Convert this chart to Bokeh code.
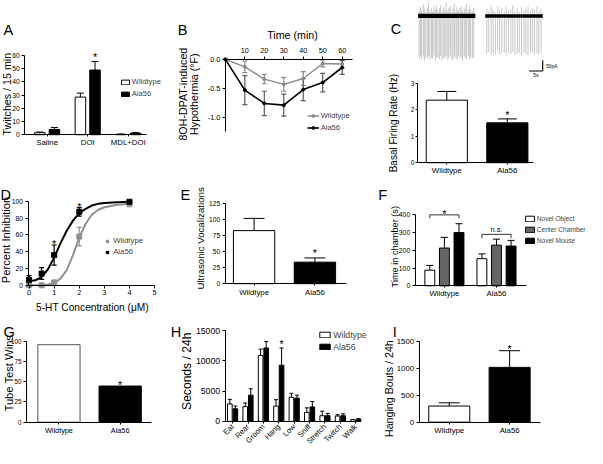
import math
from bokeh.plotting import figure
from bokeh.models import (Range1d, LinearAxis, FixedTicker, Label, Legend, LegendItem,
                          Whisker, TeeHead, ColumnDataSource)
from bokeh.layouts import row, column
from bokeh.embed import file_html
from bokeh.resources import INLINE

# ---------------- data ----------------
A_groups = ["Saline", "DOI", "MDL+DOI"]
A_wt = [1.5, 28.5, 0.3]
A_wt_err = [0.5, 3.0, 0.2]
A_ala = [4.0, 49.0, 1.2]
A_ala_err = [1.5, 6.5, 0.5]

B_time = [0, 10, 20, 30, 40, 50, 60]
B_wt = [0.0, -0.13, -0.34, -0.43, -0.33, -0.07, -0.08]
B_wt_err = [0.0, 0.10, 0.08, 0.12, 0.12, 0.06, 0.07]
B_ala = [0.0, -0.53, -0.76, -0.79, -0.52, -0.40, -0.14]
B_ala_err = [0.0, 0.25, 0.21, 0.19, 0.19, 0.16, 0.12]

C_trace1_t = [0.4, 0.9, 1.3, 1.9, 2.3, 2.8, 3.4, 3.8, 4.3, 4.9, 5.3, 5.8, 6.4, 6.8, 7.3, 7.9, 8.3, 8.8,
              9.4, 9.8, 10.3, 10.9, 11.3, 11.8, 12.4, 12.8, 13.3, 13.9, 14.3, 14.8, 15.4, 15.8, 16.3,
              16.9, 17.3, 17.8, 18.4, 18.8, 19.3, 19.9, 20.4]
C_trace1_down = [-200, -190, -205, -185, -210, -195, -200, -188, -207, -196, -202, -185, -209, -193,
                 -199, -204, -187, -211, -195, -200, -190, -206, -198, -185, -203, -210, -192, -199,
                 -205, -188, -201, -195, -212, -190, -198, -203, -186, -207, -194, -200, -196]
C_trace1_up = [30, 45, 25, 55, 35, 20, 40, 60, 28, 38, 22, 50, 33, 45, 27, 36, 52, 24, 41, 30, 64,
               26, 39, 47, 21, 35, 58, 29, 43, 25, 37, 49, 23, 40, 31, 55, 27, 44, 33, 20, 38]
C_trace2_t = [25.2, 25.9, 26.8, 27.5, 28.3, 29.2, 29.9, 30.7, 31.6, 32.3, 33.1, 34.0, 34.7, 35.5,
              36.4, 37.1, 37.9, 38.8, 39.5, 40.3, 41.2, 41.9, 42.7, 43.6, 44.3, 45.1]
C_trace2_down = [-178, -170, -185, -174, -181, -168, -183, -176, -172, -186, -175, -180, -169, -184,
                 -177, -173, -182, -171, -179, -186, -174, -170, -183, -176, -181, -172]
C_trace2_up = [35, 22, 48, 30, 18, 42, 26, 38, 20, 45, 28, 33, 50, 24, 36, 19, 41, 27, 32, 44, 23,
               37, 29, 46, 21, 34]
C_trace_start = [0.0, 24.6]
C_trace_end = [21.0, 45.7]

C_groups = ["Wildtype", "Ala56"]
C_rate = [2.37, 1.51]
C_rate_err = [0.33, 0.15]

D_conc = [0, 0.5, 1, 2, 4]
D_wt = [0.0, 0.0, 3.5, 58.0, 96.5]
D_wt_err = [0.0, 0.0, 2.0, 11.0, 1.5]
D_ala = [6.5, 14.0, 36.0, 87.5, 99.5]
D_ala_err = [5.0, 7.0, 12.0, 5.0, 0.5]
D_fit_x = [0, 0.25, 0.5, 0.75, 1.0, 1.25, 1.5, 1.75, 2.0, 2.25, 2.5, 2.75, 3.0, 3.5, 4.0]
D_fit_wt = [0, 0.1, 0.3, 1.0, 3, 8, 18, 36, 57, 73, 84, 90, 93, 96, 97]
D_fit_ala = [5, 6, 10, 19, 33, 50, 65, 77, 86, 91, 95, 97, 98, 99, 99.5]

E_groups = ["Wildtype", "Ala56"]
E_usv = [82.5, 33.5]
E_usv_err = [19.0, 6.5]

F_groups = ["Wildtype", "Ala56"]
F_series = ["Novel Object", "Center Chamber", "Novel Mouse"]
F_object = [88, 153]
F_object_err = [27, 27]
F_center = [213, 229]
F_center_err = [60, 34]
F_mouse = [300, 224]
F_mouse_err = [50, 32]

G_groups = ["Wildtype", "Ala56"]
G_wins = [95.5, 44.5]

H_behav = ["Eat", "Rear", "Groom", "Hang", "Low", "Sniff", "Stretch", "Twitch", "Walk"]
H_wt = [2900, 2450, 10900, 2550, 4000, 1500, 950, 900, 280]
H_wt_err = [750, 600, 1050, 1050, 650, 750, 750, 220, 60]
H_ala = [2100, 4350, 12150, 9300, 3850, 2400, 950, 950, 380]
H_ala_err = [450, 1050, 1050, 2850, 500, 900, 380, 320, 80]

I_groups = ["Wildtype", "Ala56"]
I_bouts = [300, 1020]
I_bouts_err = [60, 311]

# ---------------- helpers ----------------
FONT = "Liberation Sans"
SX = 587 / 603
SY = 448 / 464


def X(v):
    return int(round(v * SX))


def Y(v):
    return int(round(v * SY))


def fs(s):
    return f"{s * 0.97:.1f}px"


def make(tile, frame, xr, yr):
    """Figure whose plotting area is the whole tile; xr/yr map onto the 'frame' rectangle."""
    tx0, ty0, tx1, ty1 = tile
    fx0, fy0, fx1, fy1 = frame
    kx = (fx1 - fx0) / (xr[1] - xr[0])
    ky = (fy1 - fy0) / (yr[1] - yr[0])
    xs = xr[0] - (fx0 - X(tx0) / SX) / kx
    xe = xr[1] + (X(tx1) / SX - fx1) / kx
    ys = yr[0] - (Y(ty1) / SY - fy1) / ky
    ye = yr[1] + (fy0 - Y(ty0) / SY) / ky
    p = figure(width=X(tx1) - X(tx0), height=Y(ty1) - Y(ty0),
               x_range=Range1d(xs, xe), y_range=Range1d(ys, ye),
               x_axis_type=None, y_axis_type=None,
               min_border=0, min_border_left=0, min_border_right=0,
               min_border_top=0, min_border_bottom=0,
               output_backend="svg", toolbar_location=None)
    p.outline_line_color = None
    p.background_fill_color = "white"
    p.border_fill_color = "white"
    return p, tile


def lab(p, fr, x, y, text, size, angle=0.0, align="left", baseline="alphabetic", color="black"):
    p.add_layout(Label(x=x * SX - X(fr[0]), y=Y(fr[3]) - y * SY, x_units="screen", y_units="screen",
                       text=text, text_font=FONT, text_font_size=fs(size), angle=angle,
                       text_align=align, text_baseline=baseline, text_color=color))


def ylab(p, fr, cx, cy, text, size):
    lab(p, fr, cx, cy, text, size, angle=math.pi / 2, align="center", baseline="middle")


def axis(p, side, ticks, size, loc, bounds, overrides=None, tick_out=3, standoff=2, orient=None):
    ax = LinearAxis(ticker=FixedTicker(ticks=ticks, minor_ticks=[]),
                    fixed_location=loc, bounds=bounds,
                    axis_line_color="black", axis_line_width=1,
                    major_tick_line_color="black", major_tick_in=0, major_tick_out=tick_out,
                    minor_tick_line_color=None, major_label_standoff=standoff,
                    major_label_text_font=FONT, major_label_text_font_size=fs(size),
                    major_label_text_color="black")
    if overrides:
        ax.major_label_overrides = overrides
    if orient is not None:
        ax.major_label_orientation = orient
    p.add_layout(ax, side)


def whisk(p, xs, vals, errs, cap, color="black", width=1.0, both=False):
    lo = [v - e if both else v for v, e in zip(vals, errs)]
    hi = [v + e for v, e in zip(vals, errs)]
    src = ColumnDataSource(dict(x=list(xs), lo=lo, hi=hi))
    w = Whisker(source=src, base="x", lower="lo", upper="hi", dimension="height",
                line_color=color, line_width=width,
                upper_head=TeeHead(size=cap, line_color=color, line_width=width),
                lower_head=TeeHead(size=cap, line_color=color, line_width=width) if both else None)
    p.add_layout(w)


def star(p, x, y, gap, size=11):
    p.add_layout(Label(x=x, y=y, y_offset=gap * SY - 0.58 * size * 0.97, text="*",
                       text_align="center", text_baseline="alphabetic",
                       text_font=FONT, text_font_size=fs(size), text_color="black"))


def legend(p, fr, items, x_left, y_first, pitch, gw, gh, size, standoff=2):
    n = len(items)
    sp = 2
    lh = pitch * SY - sp
    top = y_first * SY - lh / 2
    bottom = top + n * lh + (n - 1) * sp
    lg = Legend(items=[LegendItem(label=t, renderers=r) for t, r in items],
                location=(x_left * SX - X(fr[0]), Y(fr[3]) - bottom),
                orientation="vertical", padding=0, margin=0, spacing=sp,
                glyph_width=gw, glyph_height=gh, label_standoff=standoff, label_height=int(lh),
                label_text_font=FONT, label_text_font_size=fs(size),
                border_line_color=None, background_fill_alpha=0)
    p.add_layout(lg)


# ---------------- Panel A ----------------
pA, frA = make((0, 0, 178, 155), (25, 57, 150, 139), (-0.55, 2.45), (0, 60))
xa_w = [i - 0.18 for i in range(len(A_groups))]
xa_a = [i + 0.18 for i in range(len(A_groups))]
whisk(pA, xa_w, A_wt, A_wt_err, 7)
whisk(pA, xa_a, A_ala, A_ala_err, 7)
rA1 = pA.vbar(x=xa_w, top=A_wt, width=0.26, fill_color="white", line_color="black", line_width=1)
rA2 = pA.vbar(x=xa_a, top=A_ala, width=0.26, fill_color="black", line_color="black", line_width=1)
axis(pA, "left", list(range(0, 61, 10)), 7, -0.55, (0, 60))
axis(pA, "below", list(range(len(A_groups))), 8, 0, (-0.55, 2.45),
     {i: g for i, g in enumerate(A_groups)}, tick_out=2, standoff=1)
star(pA, 1.18, A_ala[1] + A_ala_err[1], 11)
legend(pA, frA, [("Wildtype", [rA1]), ("Ala56", [rA2])], 123, 84.5, 12.5, 10, 6, 7.8)
lab(pA, frA, 3, 30.5, "A", 15)
ylab(pA, frA, 7, 97, "Twitches / 15 min", 11)

# ---------------- Panel B ----------------
pB, frB = make((178, 0, 385, 155), (231, 61, 362, 136), (0, 65.5), (-1.25, 0))
whisk(pB, B_time, B_wt, B_wt_err, 5, color="#8a8a8a", width=1.2, both=True)
whisk(pB, B_time, B_ala, B_ala_err, 5, color="#5a5a5a", width=1.2, both=True)
lB1 = pB.line(B_time, B_wt, line_color="#8a8a8a", line_width=1.4)
sB1 = pB.scatter(B_time, B_wt, marker="circle", size=3, color="#8a8a8a")
lB2 = pB.line(B_time, B_ala, line_color="black", line_width=1.6)
sB2 = pB.scatter(B_time, B_ala, marker="circle", size=3, color="black")
axis(pB, "above", [10, 20, 30, 40, 50, 60], 7.5, 0, (0, 65.5), tick_out=3, standoff=3)
axis(pB, "left", [0, -0.5, -1], 7.5, 0, (-1.25, 0), {0: "0.0", -0.5: "-0.5", -1: "-1.0"})
legend(pB, frB, [("Wildtype", [lB1, sB1]), ("Ala56", [lB2, sB2])], 315, 119, 13, 12, 7, 7.8)
lab(pB, frB, 300, 36, "Time (min)", 11, align="center", baseline="middle")
ylab(pB, frB, 187, 97, "8OH-DPAT-induced", 11)
ylab(pB, frB, 199, 97, "Hypothermia (\u00b0F)", 11)
lab(pB, frB, 182, 30.5, "B", 15)

# ---------------- Panel C (letter + label) ----------------
pCl, frCl = make((385, 0, 418, 185), (388, 5, 415, 180), (0, 1), (0, 1))
lab(pCl, frCl, 401, 30, "C", 15)
ylab(pCl, frCl, 404, 127, "Basal Firing Rate (Hz)", 10.3)

# ---------------- Panel C (traces) ----------------
pCt, frCt = make((418, 0, 603, 80), (429, 16, 557, 62), (0, 45.7), (-209, 0))
pCt.segment(x0=C_trace1_t, y0=C_trace1_up, x1=C_trace1_t, y1=C_trace1_down, line_color="#b8b8b8", line_width=0.8)
pCt.segment(x0=C_trace2_t, y0=C_trace2_up, x1=C_trace2_t, y1=C_trace2_down, line_color="#b8b8b8", line_width=0.8)
pCt.segment(x0=C_trace_start[:1], y0=[0], x1=C_trace_end[:1], y1=[0], line_color="black", line_width=4.2)
pCt.segment(x0=C_trace_start[1:], y0=[0], x1=C_trace_end[1:], y1=[0], line_color="black", line_width=3.4)
pCt.segment(x0=[45.7, 40.7], y0=[-209, -259], x1=[45.7, 45.7], y1=[-259, -259], line_color="black", line_width=1.1)
lab(pCt, frCt, 560.5, 68.7, "50pA", 5, baseline="middle")
lab(pCt, frCt, 550, 78, "5s", 5, align="center", baseline="middle")

# ---------------- Panel C (bars) ----------------
pCb, frCb = make((418, 80, 603, 185), (428, 86, 548, 168), (-0.49, 1.44), (0, 3))
whisk(pCb, [0, 1], C_rate, C_rate_err, 19)
pCb.vbar(x=[0, 1], top=C_rate, width=0.68, fill_color=["white", "black"], line_color="black", line_width=1)
axis(pCb, "left", [0, 1, 2, 3], 6.5, -0.49, (0, 3), tick_out=2, standoff=1)
axis(pCb, "below", [0, 1], 8, 0, (-0.49, 1.44), {0: C_groups[0], 1: C_groups[1]}, tick_out=2, standoff=1)
star(pCb, 1, C_rate[1] + C_rate_err[1], 10)

# ---------------- Panel D ----------------
pD, frD = make((0, 155, 178, 325), (28.3, 208, 158.3, 295), (-0.04, 5.0), (0, 100))
pD.line(D_fit_x, D_fit_wt, line_color="#909090", line_width=2)
pD.line(D_fit_x, D_fit_ala, line_color="black", line_width=2)
whisk(pD, D_conc, D_wt, D_wt_err, 5, color="#909090", width=1.2, both=True)
whisk(pD, D_conc, D_ala, D_ala_err, 5, color="black", width=1.2, both=True)
sD1 = pD.scatter(D_conc, D_wt, marker="square", size=5, color="#909090")
sD2 = pD.scatter(D_conc, D_ala, marker="square", size=5, color="black")
axis(pD, "left", [0, 20, 40, 60, 80, 100], 7, -0.04, (0, 100))
axis(pD, "below", [0, 1, 2, 3, 4, 5], 7.5, 0, (-0.04, 5.0), tick_out=3, standoff=2)
star(pD, 1, D_ala[2] + D_ala_err[2], 7)
star(pD, 2, D_ala[3] + D_ala_err[3], 7)
legend(pD, frD, [("Wildtype", [sD1]), ("Ala56", [sD2])], 107, 249.3, 11.4, 6, 6, 8, standoff=3)
lab(pD, frD, 94.5, 318.3, "5-HT Concentration (\u03bcM)", 10.5, align="center", baseline="middle")
ylab(pD, frD, 6, 248, "Percent Inhibition", 11.5)
lab(pD, frD, 0, 201.7, "D", 15)

# ---------------- Panel E ----------------
pE, frE = make((178, 155, 385, 325), (230.7, 210, 355, 293.3), (-0.477, 1.512), (0, 125))
whisk(pE, [0, 1], E_usv, E_usv_err, 21)
pE.vbar(x=[0, 1], top=E_usv, width=0.68, fill_color=["white", "black"], line_color="black", line_width=1)
axis(pE, "left", [0, 25, 50, 75, 100, 125], 6.8, -0.477, (0, 125))
axis(pE, "below", [0, 1], 8, 0, (-0.477, 1.512), {0: E_groups[0], 1: E_groups[1]}, tick_out=2, standoff=2)
star(pE, 1, E_usv[1] + E_usv_err[1], 12)
ylab(pE, frE, 205, 245, "Ultrasonic  Vocalizations", 10)
lab(pE, frE, 185, 201.7, "E", 15)

# ---------------- Panel F ----------------
pF, frF = make((385, 185, 603, 310), (426, 222, 540, 295.5), (-0.561, 1.57), (0, 400))
offs = [-0.28, 0.0, 0.28]
fills = ["white", "#666666", "black"]
vals = [F_object, F_center, F_mouse]
errs = [F_object_err, F_center_err, F_mouse_err]
rF = []
for k in range(3):
    xs = [g + offs[k] for g in range(len(F_groups))]
    whisk(pF, xs, vals[k], errs[k], 7)
    rF.append(pF.vbar(x=xs, top=vals[k], width=0.19, fill_color=fills[k], line_color="black", line_width=1))
br_x0 = [-0.28, 0.72]
br_x1 = [0.28, 1.28]
br_y = [400, 290]
br_drop = [20, 22]
pF.segment(x0=br_x0, y0=br_y, x1=br_x1, y1=br_y, line_color="#333333", line_width=1)
pF.segment(x0=br_x0, y0=br_y, x1=br_x0, y1=[y - d for y, d in zip(br_y, br_drop)], line_color="#333333", line_width=1)
pF.segment(x0=br_x1, y0=br_y, x1=br_x1, y1=[y - d for y, d in zip(br_y, br_drop)], line_color="#333333", line_width=1)
star(pF, 0, br_y[0], 7)
pF.add_layout(Label(x=1, y=br_y[1], y_offset=5 * SY, text="n.s.", text_align="center", text_baseline="alphabetic",
                    text_font=FONT, text_font_size=fs(7.5), text_color="black"))
axis(pF, "left", [0, 100, 200, 300, 400], 7, -0.561, (0, 400))
axis(pF, "below", [0, 1], 8, 0, (-0.561, 1.57), {0: F_groups[0], 1: F_groups[1]}, tick_out=2, standoff=1)
legend(pF, frF, [(F_series[k], [rF[k]]) for k in range(3)], 538, 226, 11.5, 11, 7, 6.8)
ylab(pF, frF, 405, 255, "Time in chamber (s)", 9.5)
lab(pF, frF, 388, 201.7, "F", 15)

# ---------------- Panel G ----------------
pG, frG = make((0, 325, 172, 464), (26.7, 352.7, 155, 436.7), (-0.53, 1.51), (0, 100))
pG.vbar(x=[0, 1], top=G_wins, width=0.69, fill_color=["white", "black"], line_color=["#555555", "black"], line_width=1)
axis(pG, "left", [0, 25, 50, 75, 100], 6.5, -0.53, (0, 100))
axis(pG, "below", [0, 1], 7.5, 0, (-0.53, 1.51), {0: G_groups[0], 1: G_groups[1]}, tick_out=2, standoff=2)
star(pG, 1, G_wins[1], 8)
ylab(pG, frG, 8.5, 386, "Tube Test Wins", 11.5)
lab(pG, frG, 3, 343.3, "G", 15)

# ---------------- Panel H ----------------
pH, frH = make((172, 325, 385, 464), (230.7, 342, 370, 436), (-0.49, 8.32), (0, 15000))
xh_w = [i - 0.18 for i in range(len(H_behav))]
xh_a = [i + 0.18 for i in range(len(H_behav))]
whisk(pH, xh_w, H_wt, H_wt_err, 4)
whisk(pH, xh_a, H_ala, H_ala_err, 4)
rH1 = pH.vbar(x=xh_w, top=H_wt, width=0.3, fill_color="white", line_color="black", line_width=1)
rH2 = pH.vbar(x=xh_a, top=H_ala, width=0.3, fill_color="black", line_color="black", line_width=1)
axis(pH, "left", [0, 5000, 10000, 15000], 9, -0.49, (0, 15000))
axis(pH, "below", list(range(len(H_behav))), 7.8, 0, (-0.49, 8.32), {i: b for i, b in enumerate(H_behav)},
     tick_out=2, standoff=2, orient=math.pi / 4)
star(pH, 3.18, H_ala[3] + H_ala_err[3], 10)
legend(pH, frH, [("Wildtype", [rH1]), ("Ala56", [rH2])], 327, 348, 11.5, 13, 7, 9)
ylab(pH, frH, 192, 384, "Seconds / 24h", 12.5)
lab(pH, frH, 175, 343.3, "H", 15)

# ---------------- Panel I ----------------
pI, frI = make((385, 310, 603, 464), (430, 353.3, 555, 436.7), (-0.5, 1.516), (0, 1500))
whisk(pI, [0, 1], I_bouts, I_bouts_err, 21)
pI.vbar(x=[0, 1], top=I_bouts, width=0.68, fill_color=["white", "black"], line_color="black", line_width=1)
axis(pI, "left", [0, 500, 1000, 1500], 8, -0.5, (0, 1500))
axis(pI, "below", [0, 1], 8, 0, (-0.5, 1.516), {0: I_groups[0], 1: I_groups[1]}, tick_out=2, standoff=2)
star(pI, 1, I_bouts[1] + I_bouts_err[1], 8)
ylab(pI, frI, 399, 402, "Hanging Bouts / 24h", 11)
lab(pI, frI, 403, 343.3, "I", 15)

# ---------------- layout ----------------
left_block = column(row(pA, pB, spacing=0), row(pD, pE, spacing=0), row(pG, pH, spacing=0), spacing=0)
right_col = column(row(pCl, column(pCt, pCb, spacing=0), spacing=0), pF, pI, spacing=0)
root = row(left_block, right_col, spacing=0)

open("out.html", "w").write(file_html(root, INLINE))
